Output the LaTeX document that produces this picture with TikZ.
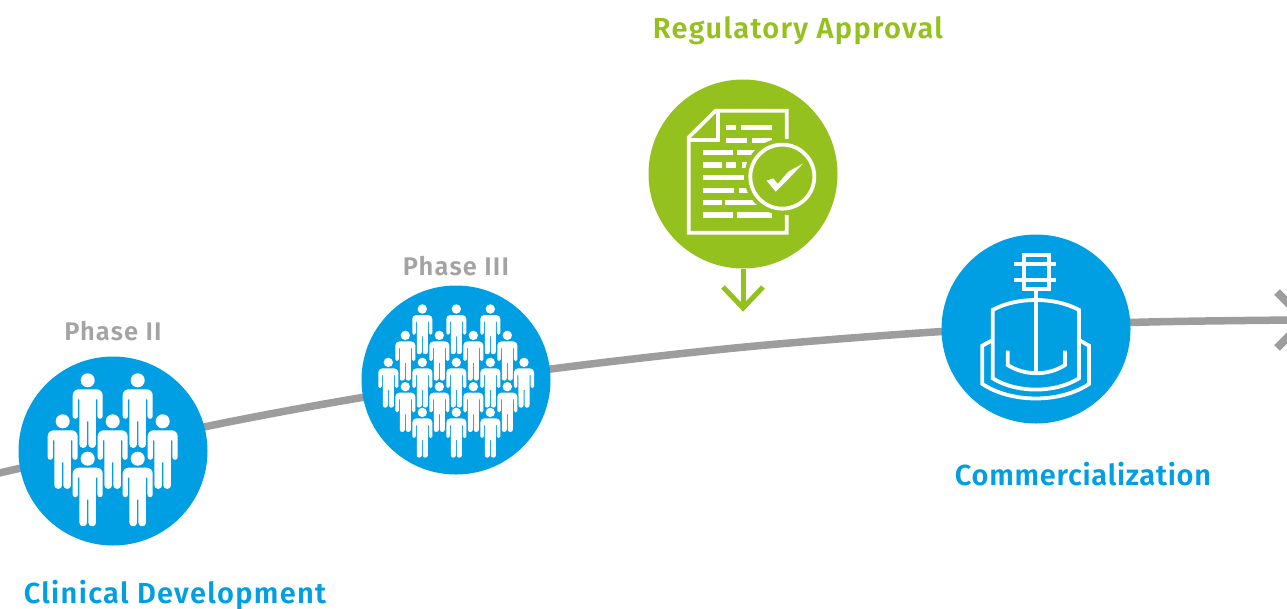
\documentclass[tikz,border=0pt]{standalone}
\usepackage{fontspec}
\setmainfont{Fira Sans}[LetterSpace=4.5,BoldFont={Fira Sans SemiBold}]
\definecolor{cblue}{HTML}{009FE3}
\definecolor{cgreen}{HTML}{95C11F}
\definecolor{cgray}{HTML}{9D9D9D}
\definecolor{ctext}{HTML}{A3A3A3}
\newcommand{\person}[3]{%
  \pgfmathsetlengthmacro{\ra}{6pt*#3}%
  \pgfmathsetlengthmacro{\rb}{2.6pt*#3}%
  \pgfmathsetlengthmacro{\rc}{3.4pt*#3}%
  \pgfmathsetlengthmacro{\lw}{3pt*#3}%
  \begin{scope}[shift={(#1,#2)},scale=#3,x=1pt,y=-1pt]
    \fill[white,preaction={draw=cblue,line width=\lw}]
      (8.25,26)
      [rounded corners=\rc] -- (8.25,74.5) -- (0.75,74.5)
      [sharp corners] -- (0.75,48) -- (-0.75,48)
      [rounded corners=\rc] -- (-0.75,74.5) -- (-8.25,74.5)
      [sharp corners] -- (-8.25,26) -- (-9.75,26)
      [rounded corners=\rb] -- (-9.75,45.5) -- (-15,45.5)
      [rounded corners=\ra] -- (-15,16) -- (15,16)
      [rounded corners=\rb] -- (15,45.5) -- (9.75,45.5)
      [sharp corners] -- (9.75,26) -- cycle;
    \fill[white,preaction={draw=cblue,line width=\lw}] (0,7) circle[radius=7pt];
  \end{scope}}
\tikzset{
  disc/.style={circle,minimum size=189pt,inner sep=0pt,fill=#1},
  label/.style={inner sep=0pt,font=\bfseries\fontsize{29pt}{30pt}\selectfont,text=#1},
  phase/.style={inner sep=0pt,font=\bfseries\fontsize{25.5pt}{28pt}\selectfont,text=ctext},
  trunk/.style={draw=cgray,line width=7.5pt},
  pointer/.style={draw=cgreen,line width=5pt,miter limit=10},
  icon/.style={draw=white,line width=3.8pt,miter limit=10},
}
\newcommand{\bars}[2]{\foreach \a/\b in {#2}{\fill[white] (\a,#1-8) rectangle (\b,#1+8);}}
\begin{document}
\begin{tikzpicture}[x=1pt,y=-1pt]
\useasboundingbox (0,0) rectangle (1287,608);
\begin{scope}
\clip (0,0) rectangle (1287,608);
\coordinate (l0) at (-5,474);
\coordinate (l1) at (204,427);
\coordinate (l2) at (365,397);
\coordinate (l3) at (551,369);
\coordinate (l35) at (745,347);
\coordinate (l4) at (942,331.5);
\coordinate (l5) at (1130,322.5);
\coordinate (l6) at (1297,320);
\draw[trunk] plot[smooth,tension=0.5] coordinates {(l0) (l1) (l2) (l3) (l35) (l4) (l5) (l6)};
\coordinate (hU) at (1277,292);
\coordinate (hT) at (1305,320);
\coordinate (hL) at (1277,348);
\draw[draw=cgray,line width=8pt,miter limit=10] (hU) -- (hT) -- (hL);
\end{scope}

\node[disc=cblue] (c1) at (113,451) {};
\node[disc=cblue] (c2) at (456,380) {};
\node[disc=cgreen] (c3) at (743,174) {};
\node[disc=cblue] (c4) at (1036,329) {};

% Phase II people
\foreach \x in {87.7,137.7}{\person{\x}{373.3}{1}}
\foreach \x in {62.7,112.7,162.7}{\person{\x}{414.3}{1}}
\foreach \x in {87.7,137.7}{\person{\x}{451.7}{1}}

% Phase III people
\foreach \x in {422.3,456.3,490.3}{\person{\x}{304.3}{0.67}}
\foreach \x in {405.3,439.3,473.3,507.3}{\person{\x}{330.7}{0.67}}
\foreach \x in {388.3,422.3,456.3,490.3,524}{\person{\x}{357.7}{0.67}}
\foreach \x in {405.3,439.3,473.3,507.3}{\person{\x}{382}{0.67}}
\foreach \x in {422.3,456.3,490.3}{\person{\x}{407.7}{0.67}}

% Document icon
\begin{scope}[shift={(645,80)},x=0.3333pt,y=-0.3333pt]
  \draw[icon] (425,178) -- (425,92) -- (212,92) -- (131,172) -- (131,458) -- (425,458) -- (425,405);
  \draw[icon] (131,180) -- (220,180) -- (220,92);
  \bars{143}{243/273,288/380}
  \bars{181}{243/305,322/380}
  \bars{217}{173/263,277/340}
  \bars{255}{173/230,243/273,290/320}
  \bars{293}{175/297}
  \bars{331}{173/267,283/320}
  \bars{368}{173/230,241/340}
  \bars{405}{173/263,277/380}
  \fill[cgreen] (412,290) circle[radius=38pt];
  \draw[icon] (412,290) circle[radius=32pt];
  \fill[white] (365,302) -- (385,295) -- (398,312) -- (430,275) -- (475,250) -- (430,297) -- (392,335) -- cycle;
\end{scope}

% Reactor icon
\begin{scope}[shift={(940,230)},x=0.3333pt,y=-0.3333pt]
  \draw[icon] (251,75) rectangle (327,177);
  \draw[icon] (222,102) -- (347,102);
  \draw[icon] (222,150) -- (347,150);
  \draw[icon] (287,177) -- (287,425);
  \draw[icon] (158,445) -- (158,240) .. controls (230,200) and (345,200) .. (417,240) -- (417,445) .. controls (345,490) and (230,490) .. (158,445) -- cycle;
  \draw[icon] (158,330) -- (127,347) -- (127,462) .. controls (215,520) and (360,520) .. (447,462) -- (447,347) -- (417,330);
  \draw[icon] (203,362) -- (203,405) .. controls (255,438) and (325,438) .. (375,405) -- (375,362);
\end{scope}

% Approval arrow
\coordinate (aT) at (743,308);
\coordinate (aL) at (723,287);
\coordinate (aR) at (763,287);
\draw[pointer] (c3.south) -- (aT);
\draw[pointer] (aL) -- (aT) -- (aR);

\node[label=cgreen] (t3) at (798,31) {Regulatory Approval};
\node[label=cblue] (t4) at (1083,474) {\addfontfeature{LetterSpace=2.5}Commercialization};
\node[label=cblue] (t1) at (175,595) {Clinical Development};
\node[phase] (t2a) at (113,331) {Phase II};
\node[phase] (t2b) at (456,266) {Phase III};
\end{tikzpicture}
\end{document}
